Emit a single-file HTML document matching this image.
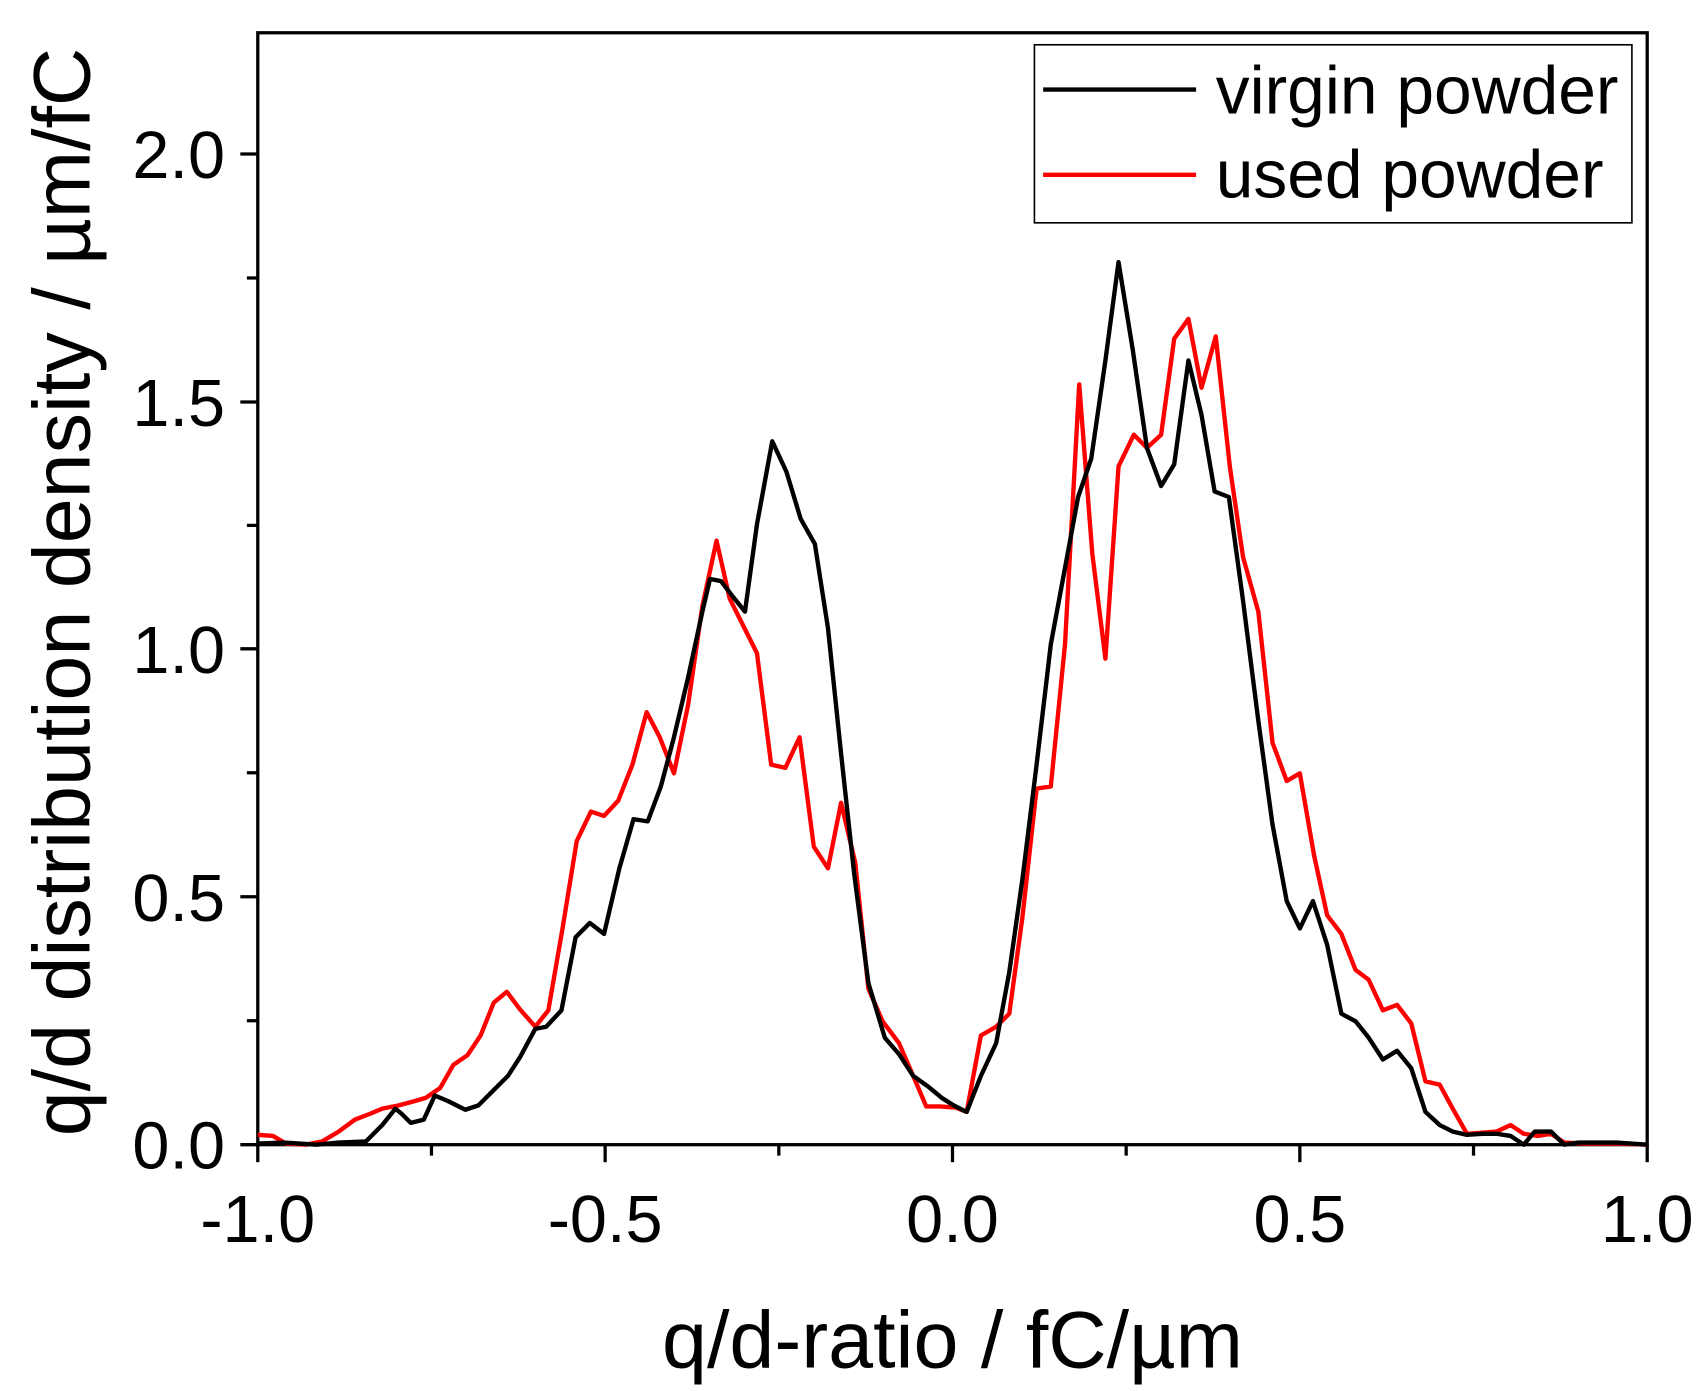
<!DOCTYPE html>
<html><head><style>html,body{margin:0;padding:0;background:#fff}svg{display:block}</style></head>
<body>
<svg width="1704" height="1391" viewBox="0 0 1560 1273.5" preserveAspectRatio="none" xmlns="http://www.w3.org/2000/svg" font-family="Liberation Sans, sans-serif">
<rect x="236" y="30" width="1272" height="1018" fill="none" stroke="#000" stroke-width="3"/>
<g stroke="#000" stroke-width="3">
<line x1="236" y1="1048" x2="236" y2="1064"/><line x1="554" y1="1048" x2="554" y2="1064"/><line x1="872" y1="1048" x2="872" y2="1064"/><line x1="1190" y1="1048" x2="1190" y2="1064"/><line x1="1508" y1="1048" x2="1508" y2="1064"/>
<line x1="395" y1="1048" x2="395" y2="1058"/><line x1="713" y1="1048" x2="713" y2="1058"/><line x1="1031" y1="1048" x2="1031" y2="1058"/><line x1="1349" y1="1048" x2="1349" y2="1058"/>
<line x1="220" y1="1048" x2="236" y2="1048"/><line x1="220" y1="821" x2="236" y2="821"/><line x1="220" y1="594" x2="236" y2="594"/><line x1="220" y1="368" x2="236" y2="368"/><line x1="220" y1="141" x2="236" y2="141"/>
<line x1="226" y1="934.5" x2="236" y2="934.5"/><line x1="226" y1="707.5" x2="236" y2="707.5"/><line x1="226" y1="481" x2="236" y2="481"/><line x1="226" y1="254.5" x2="236" y2="254.5"/>
</g>
<g font-size="61" text-anchor="middle" fill="#000">
<text x="236" y="1137">-1.0</text><text x="554" y="1137">-0.5</text><text x="872" y="1137">0.0</text><text x="1190" y="1137">0.5</text><text x="1508" y="1137">1.0</text>
</g>
<g font-size="61" text-anchor="end" fill="#000">
<text x="206" y="1070">0.0</text><text x="206" y="843">0.5</text><text x="206" y="616">1.0</text><text x="206" y="390">1.5</text><text x="206" y="163">2.0</text>
</g>
<text x="872" y="1252" font-size="74" text-anchor="middle">q/d-ratio / fC/µm</text>
<text transform="translate(82,542) rotate(-90)" font-size="74" text-anchor="middle">q/d distribution density / µm/fC</text>
<polyline fill="none" stroke="#ff0000" stroke-width="4" stroke-linejoin="round" points="236,1039 250,1040 262,1047 280,1048 295,1045 310,1036 325,1025 338,1020 350,1015 365,1012 380,1008 390,1005 403,996 415,975 428,966 440,948 452,918 464,908 476,924 490,940 502,925 515,850 528,770 541,743 553,747 566,733 579,700 592,652 604,675 617,708 630,645 643,555 656,495 668,548 680,572 693,598 706,700 719,703 732,675 745,775 758,795 770,735 783,790 795,905 808,935 823,955 836,985 848,1013 860,1013 875,1014 885,1018 898,948 912,940 924,928 936,840 949,722 962,720 975,590 988,352 1000,507 1012,603 1024,427 1038,398 1050,410 1063,398 1075,310 1088,292 1100,355 1113,308 1126,428 1138,510 1152,560 1165,680 1178,715 1190,708 1203,783 1215,838 1228,855 1241,888 1253,897 1266,925 1279,920 1292,937 1305,990 1318,993 1330,1015 1343,1038 1357,1037 1370,1036 1383,1030 1395,1038 1408,1040 1420,1038 1432,1046 1450,1047 1480,1047 1508,1048"/>
<polyline fill="none" stroke="#000" stroke-width="4" stroke-linejoin="round" points="236,1047 260,1046 290,1048 310,1046 335,1045 350,1030 362,1015 368,1020 376,1028 388,1025 398,1003 410,1008 426,1016 438,1012 452,998 465,985 476,968 490,942 500,940 514,925 527,858 540,845 553,855 567,795 580,750 593,752 605,720 617,675 630,620 643,560 650,530 660,532 670,545 682,560 693,480 707,404 720,432 733,475 746,498 758,575 770,690 782,800 795,900 810,950 823,965 836,985 850,995 862,1005 873,1012 885,1018 898,985 912,955 924,890 936,805 949,700 962,590 975,520 987,455 999,420 1012,330 1024,240 1037,320 1050,410 1063,445 1075,425 1088,330 1100,380 1112,450 1125,455 1138,550 1152,660 1165,755 1178,825 1190,850 1202,825 1215,865 1228,928 1241,935 1253,950 1266,970 1279,962 1292,978 1305,1018 1318,1030 1330,1036 1343,1039 1357,1038 1370,1038 1383,1040 1395,1048 1405,1036 1420,1036 1432,1048 1445,1046 1460,1046 1480,1046 1508,1048"/>
<rect x="947" y="41" width="547" height="163" fill="#fff" stroke="#000" stroke-width="1.5"/>
<line x1="955" y1="82" x2="1095" y2="82" stroke="#000" stroke-width="4"/>
<line x1="955" y1="160" x2="1095" y2="160" stroke="#ff0000" stroke-width="4"/>
<text x="1113" y="104" font-size="62">virgin powder</text>
<text x="1113" y="181" font-size="62">used powder</text>
</svg>
</body></html>
